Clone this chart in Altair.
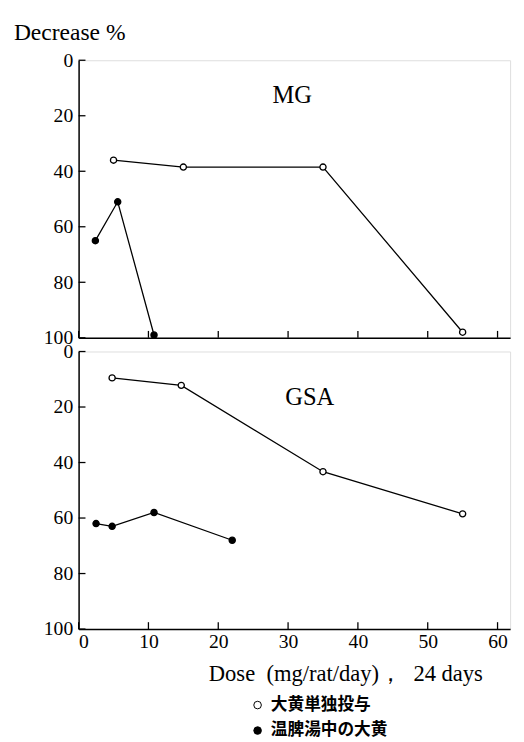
import altair as alt
import pandas as pd

# ---- data ----
series = ["大黄単独投与", "温脾湯中の大黄"]

mg_open_x = [5, 15, 35, 55]
mg_open_y = [36, 38.5, 38.5, 98]
mg_fill_x = [2.4, 5.6, 10.8]
mg_fill_y = [65, 51, 99]

gsa_open_x = [4.8, 14.7, 35, 55]
gsa_open_y = [9.5, 12.2, 43.3, 58.5]
gsa_fill_x = [2.5, 4.8, 10.8, 22]
gsa_fill_y = [62, 63, 58, 68]

x_ticks = [0, 10, 20, 30, 40, 50, 60]
y_ticks = [0, 20, 40, 60, 80, 100]

panel_names = ["MG", "GSA"]
panel_label_x = [30.6, 33.1]
panel_label_y = [12.5, 16.3]

SERIF = "Liberation Serif"
CJK = "Noto Sans CJK JP"
W, H = 440, 283

xscale = alt.Scale(domain=[0, 61.8], nice=False, zero=False)
yscale = alt.Scale(domain=[0, 100], reverse=True, nice=False, zero=False)


def make_df(ox, oy, fx, fy):
    rows = [{"x": a, "y": b, "series": series[0]} for a, b in zip(ox, oy)]
    rows += [{"x": a, "y": b, "series": series[1]} for a, b in zip(fx, fy)]
    return pd.DataFrame(rows)


def panel(df, idx, bottom):
    x_axis = alt.Axis(
        values=x_ticks, ticks=False, tickSize=0, grid=False, labels=bottom,
        domainColor="black", domainWidth=1.5,
        labelFont=SERIF, labelFontSize=20, labelColor="black", labelPadding=3,
        title="Dose\u00a0\u00a0(mg/rat/day)，\u00a0\u00a024\u00a0days" if bottom else "",
        titleFont=SERIF, titleFontSize=23, titleFontWeight="normal", titleColor="black",
        titleX=272, titleY=45, titleAlign="center", titleBaseline="middle",
    )
    y_axis = alt.Axis(
        values=y_ticks, ticks=False, tickSize=0, grid=False,
        domainColor="black", domainWidth=1.5,
        labelFont=SERIF, labelFontSize=20, labelColor="black", labelPadding=6,
        labelOverlap=False, title="",
    )

    def X(f):
        return alt.X(f, type="quantitative", scale=xscale, axis=x_axis)

    def Y(f):
        return alt.Y(f, type="quantitative", scale=yscale, axis=y_axis)

    base = alt.Chart(df)
    lines = base.mark_line(color="black", strokeWidth=1.3).encode(
        x=X("x"), y=Y("y"), detail="series:N"
    )
    legend = None
    if bottom:
        legend = alt.Legend(
            title=None, orient="none", legendX=174, legendY=352,
            symbolType="circle", symbolSize=60, symbolStrokeColor="black",
            symbolStrokeWidth=1, symbolOpacity=1,
            labelFont=CJK, labelFontSize=17, labelFontWeight="bold",
            labelColor="black", labelOffset=5, rowPadding=8, padding=0,
        )
    points = base.mark_point(
        shape="circle", filled=True, stroke="black", strokeWidth=1.3,
        size=40, opacity=1
    ).encode(
        x=X("x"), y=Y("y"),
        fill=alt.Fill("series:N", scale=alt.Scale(domain=series, range=["white", "black"]),
                      legend=legend),
    )
    yt = alt.Chart(pd.DataFrame({"v": y_ticks})).mark_rule(color="black", strokeWidth=1.3).encode(
        y=Y("v"), x=alt.value(0), x2=alt.value(7)
    )
    xt = alt.Chart(pd.DataFrame({"v": x_ticks})).mark_rule(color="black", strokeWidth=1.3).encode(
        x=X("v"), y=alt.value(H), y2=alt.value(H - 7)
    )
    lab = alt.Chart(pd.DataFrame({
        "x": [panel_label_x[idx]], "y": [panel_label_y[idx]], "t": [panel_names[idx]]
    })).mark_text(font=SERIF, fontSize=25, color="black").encode(
        x=X("x"), y=Y("y"), text="t:N"
    )
    return alt.layer(lines, points, yt, xt, lab).properties(width=W, height=H)


top = panel(make_df(mg_open_x, mg_open_y, mg_fill_x, mg_fill_y), 0, False).properties(
    title=alt.Title("Decrease %", anchor="start", frame="group", dx=-66, offset=6,
                    fontSize=24, font=SERIF, fontWeight="normal", color="black")
)
bottom = panel(make_df(gsa_open_x, gsa_open_y, gsa_fill_x, gsa_fill_y), 1, True)

chart = alt.vconcat(top, bottom, spacing=14, bounds="flush").resolve_scale(
    fill="independent"
).properties(
    padding={"left": 5, "top": 5, "right": 5, "bottom": 0}
).configure_view(stroke=None).configure(
    font=SERIF
).configure_axis(
    labelFont=SERIF, titleFont=SERIF
).configure_title(
    font=SERIF
).configure_legend(
    labelFont=CJK
)

chart.save("out.html", embed_options={"renderer": "svg", "actions": False})
